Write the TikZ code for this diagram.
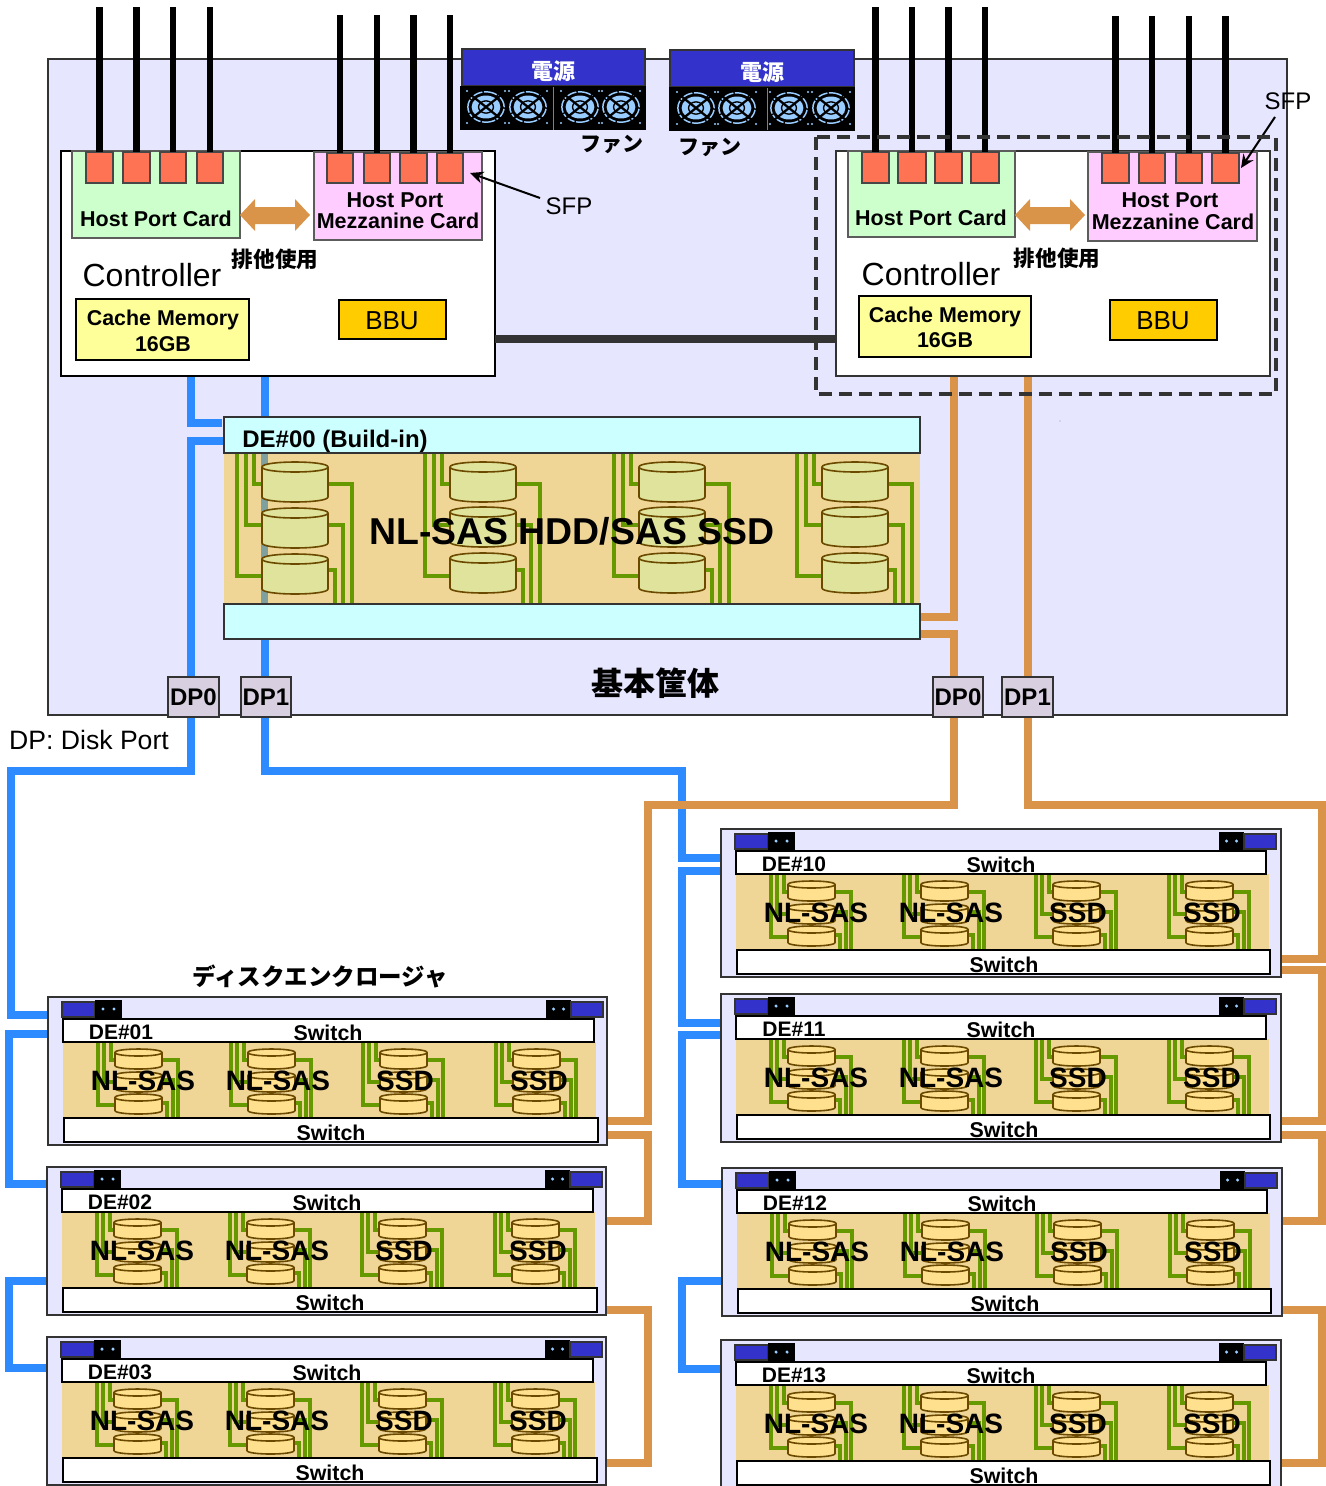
\documentclass[tikz,border=0pt]{standalone}
\usepackage{fontspec}
\setmainfont{Liberation Sans}
\newfontfamily\cjk{Noto Sans CJK JP}
\usetikzlibrary{arrows.meta}
\definecolor{mainbg}{HTML}{E6E6FF}
\definecolor{tanbg}{HTML}{EFD596}
\definecolor{cyanbg}{HTML}{CCFFFF}
\definecolor{psublue}{HTML}{3333CC}
\definecolor{cableblue}{HTML}{2E8BFF}
\definecolor{cableorange}{HTML}{D99449}
\definecolor{wire}{HTML}{669900}
\definecolor{edgegray}{HTML}{333333}
\definecolor{sfpred}{HTML}{FF7355}
\definecolor{fanblue}{HTML}{99CCFF}
\definecolor{bigdisk}{HTML}{E0E39B}
\definecolor{smalldisk}{HTML}{FFE08F}
\definecolor{diskedge}{HTML}{6B4A00}
\newcommand\px[1]{\fontsize{\fpeval{#1*0.75}pt}{\fpeval{#1*0.9}pt}\selectfont}
\tikzset{
  x=0.75pt,y=-0.75pt,
  boxn/.style={inner sep=0,outer sep=0,anchor=north west},
  plain/.style={boxn,draw=edgegray,line width=1.5pt},
  cardg/.style={boxn,draw=edgegray!80,line width=1.3pt,fill=green!20},
  sfpbox/.style={boxn,draw=edgegray!90,line width=1.3pt,fill=sfpred},
  lab/.style={inner sep=0,outer sep=0,text=black,align=center},
  blab/.style={lab,font=\bfseries},
  bluecable/.style={draw=cableblue,line width=5.3pt,line join=miter},
  orangecable/.style={draw=cableorange,line width=5.3pt,line join=miter},
  sfpline/.style={draw=black,line width=4.8pt},
  greenw/.style={draw=wire,line width=2.6pt},
  pointer/.style={draw=black,line width=1.5pt,-{Stealth[length=10pt,width=9pt]}}
}
% name, style, x1,y1,x2,y2
\newcommand\bx[6]{\node[#2,minimum width={(#5-(#3))*0.75pt},minimum height={(#6-(#4))*0.75pt}] (#1) at (#3,#4) {};}
% disk: x,y,w,h,e,fill,stroke,lw
\newcommand\diskc[8]{%
  \draw[fill=#6,draw=#7,line width=#8] (#1,{#2+#5}) -- (#1,{#2+#4-#5}) .. controls (#1,{#2+#4+#5*0.33}) and ({#1+#3},{#2+#4+#5*0.33}) .. ({#1+#3},{#2+#4-#5}) -- ({#1+#3},{#2+#5});
  \draw[fill=#6,draw=#7,line width=#8] (#1,{#2+#5}) .. controls (#1,{#2-#5*0.33}) and ({#1+#3},{#2-#5*0.33}) .. ({#1+#3},{#2+#5}) .. controls ({#1+#3},{#2+#5*2.33}) and (#1,{#2+#5*2.33}) .. (#1,{#2+#5}) -- cycle;}
% small disk group in a drive enclosure
\newcommand\smallgroup[1]{%
  \draw[greenw] ({#1-4},45) |- ({#1+3},63);
  \draw[greenw] ({#1-11},45) |- ({#1+3},85);
  \draw[greenw] ({#1-17},45) |- ({#1+3},108);
  \draw[greenw] ({#1+44},63) -| ({#1+63},121);
  \draw[greenw] ({#1+44},83) -| ({#1+58},121);
  \draw[greenw] ({#1+44},106) -| ({#1+52},121);
  \diskc{#1}{52}{47}{20}{3.5}{smalldisk}{diskedge}{1.2pt}
  \diskc{#1}{75}{47}{20}{3.5}{smalldisk}{diskedge}{1.2pt}
  \diskc{#1}{97}{47}{20}{3.5}{smalldisk}{diskedge}{1.2pt}}
% drive enclosure: name, x, y, label, extra right-hand width
\newcommand\denc[5]{%
 \begin{scope}[shift={(#2,#3)}]
  \bx{#1}{boxn,draw=edgegray,line width=1.6pt,fill=mainbg}{0}{0}{559+#5}{148}
  \bx{#1pl}{boxn,draw=edgegray,line width=1.2pt,fill=psublue}{14}{5}{47}{20}
  \bx{#1kl}{boxn,fill=black}{47}{3}{74}{21}
  \bx{#1kr}{boxn,fill=black}{498}{3}{523}{21}
  \bx{#1pr}{boxn,draw=edgegray,line width=1.2pt,fill=psublue}{523}{5}{555}{20}
  \foreach \dx in {55,66,505.5,515.5}{\fill[fanblue] (\dx,12) circle (1.3pt);}
  \bx{#1tan}{boxn,fill=tanbg}{15}{45}{548}{121}
  \smallgroup{67}\smallgroup{200}\smallgroup{332}\smallgroup{465}
  \bx{#1st}{boxn,draw=black,line width=1.5pt,fill=white}{15}{22}{546-#5}{45}
  \bx{#1sb}{boxn,draw=black,line width=1.5pt,fill=white}{16}{121}{550-#5}{145}
  \node[blab,font=\bfseries\px{21}] (#1lab) at (73,35) {#4};
  \node[blab,font=\bfseries\px{21.4}] (#1swa) at (280,36) {Switch};
  \node[blab,font=\bfseries\px{21.4}] (#1swb) at (283,136) {Switch};
  \node[blab,font=\bfseries\px{28}] (#1ta) at (95,84) {NL-SAS};
  \node[blab,font=\bfseries\px{28}] (#1tb) at (230,84) {NL-SAS};
  \node[blab,font=\bfseries\px{28}] (#1tc) at (357,84) {SSD};
  \node[blab,font=\bfseries\px{28}] (#1td) at (491,84) {SSD};
 \end{scope}}
% fan: x,y
\newcommand\fanic[2]{%
  \draw[fanblue,line width=1.1pt,dash pattern=on 10pt off 1.2pt] (#1,#2) ellipse [x radius=13.6pt,y radius=11.4pt];
  \fill[fanblue] (#1,#2) ellipse [x radius=10.8pt,y radius=8.6pt];
  \draw[black,line width=1pt] (#1,#2) ellipse [x radius=5.6pt,y radius=4.6pt];
  \draw[black,line width=1.7pt] ({#1-15},{#2-12}) -- ({#1+15},{#2+12}) ({#1-15},{#2+12}) -- ({#1+15},{#2-12});
  \fill[fanblue] ({#1-19},{#2-16}) circle (.9pt) ({#1+19},{#2-16}) circle (.9pt) ({#1-19},{#2+16}) circle (.9pt) ({#1+19},{#2+16}) circle (.9pt);}
\begin{document}
\begin{tikzpicture}
\clip (0,0) rectangle (1326,1486);
\fill[white] (0,0) rectangle (1326,1486);
% chassis
\bx{base}{boxn,draw=edgegray,line width=1.4pt,fill=mainbg}{48}{59}{1287}{715}
\fill[black] (1060,421) circle (.3pt);
% endpoints of cables
\foreach \n/\xx/\yy in {
  ba/191/376,bb/222/423,bc/224/441,bd/265/376,be/265/417,bf/265/639,
  oa/954/376,ob/920/617,oc/920/634,od/1028/376,
  da/48/1015,db/48/1034,dc/47/1184,dd/47/1281,de/47/1368,
  dk/721/858,dl/721/871,dm/721/1023,dn/721/1035,dp/722/1184,dq/722/1281,dr/721/1369,
  ra/607/1121,rb/607/1135,rc/607/1221,rd/607/1310,re/607/1463,
  rk/1281/959,rl/1281/970,rm/1281/1121,rn/1281/1135,rp/1282/1221,rq/1282/1310,rr/1281/1463}
  {\coordinate (\n) at (\xx,\yy);}
% blue cables
\draw[bluecable] (ba) |- (bb);
\draw[bluecable] (bc) -- (191,441) -- (191,771) -- (11,771) -- (11,1015) -- (da);
\draw[bluecable] (bd) -- (be);
\draw[bluecable] (bf) -- (265,771) -- (682,771) -- (682,858) -- (dk);
\draw[bluecable] (dl) -- (682,871) -- (682,1023) -- (dm);
\draw[bluecable] (dn) -- (682,1035) -- (682,1184) -- (dp);
\draw[bluecable] (dq) -- (682,1281) -- (682,1369) -- (dr);
\draw[bluecable] (db) -- (9,1034) -- (9,1184) -- (dc);
\draw[bluecable] (dd) -- (9,1281) -- (9,1368) -- (de);
% orange cables
\draw[orangecable] (oa) -- (954,617) -- (ob);
\draw[orangecable] (oc) -- (954,634) -- (954,805) -- (648,805) -- (648,1121) -- (ra);
\draw[orangecable] (rb) -- (648,1135) -- (648,1221) -- (rc);
\draw[orangecable] (rd) -- (648,1310) -- (648,1463) -- (re);
\draw[orangecable] (od) -- (1028,805) -- (1322,805) -- (1322,959) -- (rk);
\draw[orangecable] (rl) -- (1322,970) -- (1322,1121) -- (rm);
\draw[orangecable] (rn) -- (1322,1135) -- (1322,1221) -- (rp);
\draw[orangecable] (rq) -- (1322,1310) -- (1322,1463) -- (rr);
% power supplies
\bx{psa}{boxn,draw=edgegray,line width=1.2pt,fill=psublue}{462}{49}{645}{86}
\bx{fka}{boxn,fill=black}{460}{86}{646}{130}
\bx{psb}{boxn,draw=edgegray,line width=1.2pt,fill=psublue}{670}{50}{854}{87}
\bx{fkb}{boxn,fill=black}{669}{87}{855}{131}
\foreach \fx in {486,528,580,621}{\fanic{\fx}{107}}
\foreach \fx in {696,737,789,831}{\fanic{\fx}{108}}
\draw[gray,line width=.6pt] (553,87) -- (553,130) (767,88) -- (767,130);
\node[lab,text=white,font=\cjk\bfseries\px{22}] (psat) at (553,71) {電源};
\node[lab,text=white,font=\cjk\bfseries\px{22}] (psbt) at (762,72) {電源};
\node[lab,font=\cjk\bfseries\px{21}] (fta) at (612,144) {ファン};
\node[lab,font=\cjk\bfseries\px{21}] (ftb) at (710,147) {ファン};
% controllers
\bx{ctl}{boxn,draw=black,line width=1.5pt,fill=white}{61}{151}{495}{376}
\bx{ctr}{boxn,draw=edgegray,line width=1.5pt,fill=white}{836}{151}{1270}{376}
\coordinate (linka) at (495,339);\coordinate (linkb) at (836,339);
\draw[edgegray,line width=5.4pt] (linka) -- (linkb);
% cards
\bx{hl}{cardg,fill={rgb,255:red,204;green,255;blue,204}}{72}{151}{240}{238}
\bx{ml}{cardg,fill={rgb,255:red,255;green,204;blue,255}}{314}{152}{482}{240}
\bx{hr}{cardg,fill={rgb,255:red,204;green,255;blue,204}}{848}{151}{1015}{237}
\bx{mr}{cardg,fill={rgb,255:red,255;green,204;blue,255}}{1088}{152}{1257}{241}
\foreach \n/\a/\b/\tp/\yt in {
  sa/86/113/7/152,sb/123/150/7/152,sc/160/186/7/152,sd/197/223/7/152,
  se/327/353/15/153,sf/364/390/15/153,sg/400/427/15/153,sh/437/463/15/153,
  si/862/889/7/152,sj/898/926/7/152,sk/935/962/7/152,sl/971/999/7/152,
  sm/1102/1129/16/153,sn/1139/1165/16/153,so/1176/1202/16/153,sp/1212/1239/16/153}{
  \bx{\n}{sfpbox}{\a}{\yt}{\b}{183}
  \coordinate (\n top) at ({(\a+\b)/2},\tp);
  \draw[sfpline] (\n top) -- (\n.north);
}
% exclusive-use arrows
\foreach \ax in {240,1015}{
 \fill[cableorange] (\ax,215) -- ({\ax+15},199) -- ({\ax+15},207) -- ({\ax+55},207) -- ({\ax+55},199) -- ({\ax+70},215) -- ({\ax+55},231) -- ({\ax+55},224) -- ({\ax+15},224) -- ({\ax+15},231) -- cycle;
}
\node[blab,font=\bfseries\px{21.5}] (thl) at (156,219) {Host Port Card};
\node[blab,font=\bfseries\px{21.5}] (tml) at (395,200) {Host Port};
\node[blab,font=\bfseries\px{21.5}] (tml2) at (398,221) {Mezzanine Card};
\node[blab,font=\bfseries\px{21.5}] (thr) at (931,218) {Host Port Card};
\node[blab,font=\bfseries\px{21.5}] (tmr) at (1170,200) {Host Port};
\node[blab,font=\bfseries\px{21.5}] (tmr2) at (1173,222) {Mezzanine Card};
\node[lab,font=\cjk\bfseries\px{21.6}] (exl) at (275,259) {排他使用};
\node[lab,font=\cjk\bfseries\px{21.6}] (exr) at (1057,258) {排他使用};
\node[lab,font=\px{32}] (cl) at (152,275) {Controller};
\node[lab,font=\px{32}] (cr) at (931,274) {Controller};
\bx{cml}{boxn,draw=black,line width=1.4pt,fill={rgb,255:red,255;green,255;blue,153}}{76}{299}{249}{360}
\bx{cmr}{boxn,draw=black,line width=1.4pt,fill={rgb,255:red,255;green,255;blue,153}}{859}{296}{1031}{357}
\node[blab,font=\bfseries\px{21.4}] (cmlt) at (163,320) {Cache Memory};
\node[blab,font=\bfseries\px{21.4}] (cmlu) at (163,344) {16GB};
\node[blab,font=\bfseries\px{21.4}] (cmrt) at (945,317) {Cache Memory};
\node[blab,font=\bfseries\px{21.4}] (cmru) at (945,340) {16GB};
\bx{bbl}{boxn,draw=black,line width=1.4pt,fill={rgb,255:red,255;green,204;blue,0}}{339}{300}{446}{339}
\bx{bbr}{boxn,draw=black,line width=1.4pt,fill={rgb,255:red,255;green,204;blue,0}}{1110}{300}{1217}{340}
\node[lab,font=\px{26}] (bblt) at (392,321) {BBU};
\node[lab,font=\px{26}] (bbrt) at (1163,321) {BBU};
% SFP labels
\node[lab,font=\px{24}] (sfpl) at (569,206) {SFP};
\node[lab,font=\px{24}] (sfpr) at (1288,101) {SFP};
\coordinate (sfpla) at (540,198);\coordinate (sfplb) at (470,173);
\coordinate (sfpra) at (1275,117);\coordinate (sfprb) at (1241,168);
\draw[pointer] (sfpla) -- (sfplb);
\draw[pointer] (sfpra) -- (sfprb);
% dashed replacement unit
\draw[edgegray,line width=2.7pt,dash pattern=on 10pt off 5pt] (816,137) rectangle (1276,394);
% built-in drive enclosure
\bx{detan}{boxn,fill=tanbg}{224}{453}{920}{604}
\fill[fill={rgb,255:red,128;green,160;blue,160}] (261,453) rectangle (268,604);
\foreach \g/\ya/\yb/\yc in {262/462/508/554,450/462/507/553,639/462/507/553,822/462/507/553}{
  \draw[greenw] ({\g-8},453) |- (\g,484);
  \draw[greenw] ({\g-16},453) |- (\g,525);
  \draw[greenw] ({\g-25},453) |- (\g,576);
  \draw[greenw] ({\g+66},484) -| ({\g+90},604);
  \draw[greenw] ({\g+66},525) -| ({\g+81},604);
  \draw[greenw] ({\g+66},570) -| ({\g+73},604);
  \diskc{\g}{\ya}{66}{40}{5}{bigdisk}{diskedge}{1.2pt}
  \diskc{\g}{\yb}{66}{40}{5}{bigdisk}{diskedge}{1.2pt}
  \diskc{\g}{\yc}{66}{40}{5}{bigdisk}{diskedge}{1.2pt}
}
\bx{detop}{boxn,draw=edgegray,line width=1.5pt,fill=cyanbg}{224}{417}{920}{453}
\bx{debot}{boxn,draw=edgegray,line width=1.5pt,fill=cyanbg}{224}{604}{920}{639}
\node[blab,font=\bfseries\px{24}] (delab) at (335,441) {DE\#00 (Build-in)};
\node[blab,font=\bfseries\px{37.4}] (detxt) at (572,531) {NL-SAS HDD/SAS SSD};
\node[lab,font=\cjk\bfseries\px{32}] (kihon) at (655,683) {基本筐体};
% disk ports
\foreach \n/\a/\b/\t in {dpa/168/219/DP0,dpb/241/291/DP1,dpc/933/983/DP0,dpd/1002/1053/DP1}{
  \bx{\n}{boxn,draw=edgegray,line width=1.3pt,fill={rgb,255:red,216;green,208;blue,224}}{\a}{677}{\b}{717}
  \node[blab,font=\bfseries\px{24}] (\n t) at (\n) {\t};
}
\node[lab,font=\px{26.6}] (dptxt) at (89,740) {DP: Disk Port};
\node[lab,font=\cjk\bfseries\px{23.5}] (enc) at (320,976) {ディスクエンクロージャ};
% drive enclosures
\denc{deA}{48}{997}{DE\#01}{0}
\denc{deB}{47}{1167}{DE\#02}{0}
\denc{deC}{47}{1337}{DE\#03}{0}
\denc{deK}{721}{829}{DE\#10}{1}
\denc{deL}{721}{994}{DE\#11}{1}
\denc{deM}{722}{1168}{DE\#12}{1}
\denc{deN}{721}{1340}{DE\#13}{1}
\end{tikzpicture}
\end{document}
